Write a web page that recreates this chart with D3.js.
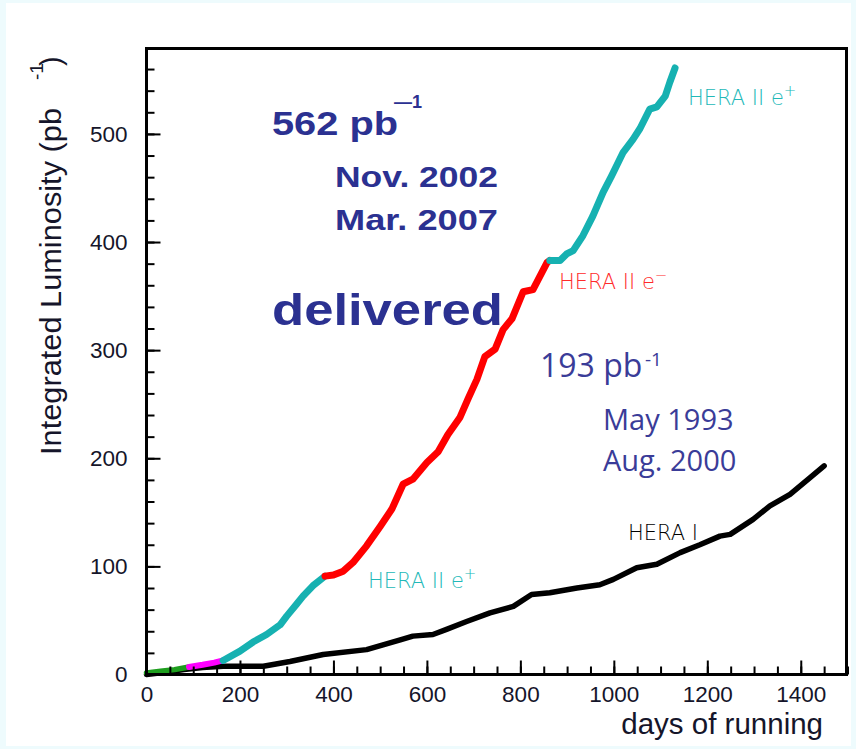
<!DOCTYPE html>
<html>
<head>
<meta charset="utf-8">
<script src="https://cdn.jsdelivr.net/npm/d3@7"></script>
<style>
  html, body { margin: 0; padding: 0; background: #eefbfd; }
  svg { display: block; }
</style>
</head>
<body>
<svg id="chart" width="856" height="749"></svg>
<script>
// ---------- data ----------
const heraIDays  = [0, 40, 80, 120, 164, 250, 307, 378, 471, 543, 570, 613, 642, 685, 735, 785, 824, 863, 921, 970, 999, 1049, 1092, 1142, 1184, 1227, 1249, 1298, 1334, 1377, 1420, 1450];
const heraILumi  = [0, 2, 4.5, 6.5, 7.7, 7.7, 12, 18.5, 23, 32, 35.5, 37, 41.7, 49, 57, 63, 74, 75.6, 80, 83, 88, 98.8, 101.9, 112.7, 120, 128, 129.6, 143.5, 156, 166.7, 182, 193];

const greenDays  = [0, 30, 60, 91];
const greenLumi  = [1.5, 3, 4.5, 7];
const magentaDays = [91, 120, 145, 164];
const magentaLumi = [7, 9, 11, 13];
const cyan1Days  = [164, 200, 228, 257, 286, 300, 321, 335, 356, 382];
const cyan1Lumi  = [13, 21.6, 30, 37, 46, 54, 65, 72.5, 82, 91];
const redDays    = [382, 400, 421, 442, 471, 500, 525, 549, 570, 600, 624, 645, 671, 688, 707, 724, 746, 763, 782, 806, 827, 857, 863];
const redLumi    = [91, 92, 95.6, 103.6, 119, 137, 153, 176, 180.6, 196, 206, 222, 238, 255, 273, 294, 301, 319, 329, 354, 356, 381, 383];
const cyan2Days  = [863, 885, 899, 913, 934, 955, 977, 995, 1020, 1041, 1056, 1077, 1092, 1110, 1120, 1131];
const cyan2Lumi  = [383, 383, 389, 392, 406, 424, 446, 461, 483, 495, 505, 523, 525, 535, 548, 561];

const xMajorTicks = [0, 200, 400, 600, 800, 1000, 1200, 1400];
const yMajorTicks = [0, 100, 200, 300, 400, 500];

// ---------- layout ----------
const svg = d3.select("#chart");
svg.append("rect").attr("x", 0).attr("y", 0).attr("width", 856).attr("height", 749).attr("fill", "#eefbfd");
svg.append("rect").attr("x", 6).attr("y", 3).attr("width", 845).attr("height", 743).attr("fill", "#ffffff");

const pLeft = 146.5, pRight = 847.5, pTop = 48.5, pBottom = 674.5;
const x = d3.scaleLinear().domain([0, 1500]).range([pLeft, pRight]);
const y = d3.scaleLinear().domain([0, 579]).range([pBottom, pTop]);

const line = d3.line().x(d => x(d[0])).y(d => y(d[1]));
const zip = (a, b) => a.map((v, i) => [v, b[i]]);

const curves = svg.append("g").attr("fill", "none").attr("stroke-linejoin", "round").attr("stroke-linecap", "round");
curves.append("path").attr("d", line(zip(heraIDays, heraILumi))).attr("stroke", "#000").attr("stroke-width", 5.5);
curves.append("path").attr("d", line(zip(greenDays, greenLumi))).attr("stroke", "#1e9e1e").attr("stroke-width", 5.5);
curves.append("path").attr("d", line(zip(magentaDays, magentaLumi))).attr("stroke", "#ff00ff").attr("stroke-width", 6);
curves.append("path").attr("d", line(zip(cyan1Days, cyan1Lumi))).attr("stroke", "#16b1b1").attr("stroke-width", 7);
curves.append("path").attr("d", line(zip(redDays, redLumi))).attr("stroke", "#ff0000").attr("stroke-width", 7);
curves.append("path").attr("d", line(zip(cyan2Days, cyan2Lumi))).attr("stroke", "#16b1b1").attr("stroke-width", 7);

// ---------- axes ----------
const tickFont = "'Liberation Sans', Arial, sans-serif";
const xMinor = d3.range(0, 1501, 50);
const yMinor = d3.range(0, 579, 20);
const fmt = d3.format("d");

const gxMinor = svg.append("g").attr("transform", `translate(0,${pBottom})`)
  .call(d3.axisBottom(x).tickValues(xMinor).tickSize(-8).tickFormat(""));
const gx = svg.append("g").attr("transform", `translate(0,${pBottom})`)
  .call(d3.axisBottom(x).tickValues(xMajorTicks).tickSize(-14).tickPadding(8).tickFormat(fmt));
const gyMinor = svg.append("g").attr("transform", `translate(${pLeft},0)`)
  .call(d3.axisLeft(y).tickValues(yMinor).tickSize(-8).tickFormat(""));
const gy = svg.append("g").attr("transform", `translate(${pLeft},0)`)
  .call(d3.axisLeft(y).tickValues(yMajorTicks).tickSize(-14).tickPadding(19).tickFormat(fmt));

[gxMinor, gx, gyMinor, gy].forEach(g => {
  g.selectAll(".domain").remove();
  g.selectAll(".tick line").attr("stroke", "#000").attr("stroke-width", 2);
  g.selectAll(".tick text").attr("fill", "#15152a").style("font-family", tickFont).style("font-size", "22.5px");
});
gx.selectAll(".tick text").attr("dy", "0.88em");

svg.append("rect").attr("x", pLeft).attr("y", pTop).attr("width", pRight - pLeft - 1).attr("height", pBottom - pTop)
  .attr("fill", "none").attr("stroke", "#000").attr("stroke-width", 3);

// axis titles
svg.append("text").attr("x", 823).attr("y", 734).attr("text-anchor", "end")
  .style("font-family", tickFont).style("font-size", "29.5px").attr("fill", "#15152a").text("days of running");

svg.append("text").attr("transform", "translate(61,455) rotate(-90)")
  .style("font-family", tickFont).style("font-size", "29px").attr("fill", "#15152a")
  .attr("textLength", 347).attr("lengthAdjust", "spacingAndGlyphs")
  .text("Integrated Luminosity (pb");
svg.append("text").attr("transform", "translate(43,80) rotate(-90)")
  .style("font-family", tickFont).style("font-size", "19px").attr("fill", "#15152a").text("-1");
svg.append("text").attr("transform", "translate(61,66) rotate(-90)")
  .style("font-family", tickFont).style("font-size", "29px").attr("fill", "#15152a").text(")");

// ---------- annotations ----------
const boldBlue = "#2b3191";
const boldFont = "'Liberation Sans', Arial, sans-serif";
function boldText(tx, ty, size, len, str) {
  svg.append("text").attr("x", tx).attr("y", ty)
    .style("font-family", boldFont).style("font-weight", "bold").style("font-size", size + "px")
    .attr("fill", boldBlue).attr("textLength", len).attr("lengthAdjust", "spacingAndGlyphs").text(str);
}
boldText(272, 135, 34, 126, "562 pb");
svg.append("text").attr("x", 394).attr("y", 108)
  .style("font-family", boldFont).style("font-weight", "bold").style("font-size", "18px")
  .attr("fill", boldBlue).text("—1");
boldText(335, 187, 30, 163, "Nov. 2002");
boldText(335, 230, 30, 163, "Mar. 2007");
boldText(272, 325, 44, 231, "delivered");

const regBlue = "#3a3c98";
const regFont = "'Open Sans', 'Noto Sans', sans-serif";
svg.append("text").attr("x", 540).attr("y", 377).style("font-family", regFont).style("font-size", "32px").attr("fill", regBlue).text("193 pb");
svg.append("text").attr("x", 645).attr("y", 366).style("font-family", regFont).style("font-size", "19px").attr("fill", regBlue).text("-1");
svg.append("text").attr("x", 603).attr("y", 430).style("font-family", regFont).style("font-size", "29px").attr("fill", regBlue).text("May 1993");
svg.append("text").attr("x", 603).attr("y", 471).style("font-family", regFont).style("font-size", "29px").attr("fill", regBlue).text("Aug. 2000");

const labelFont = "'DejaVu Sans', sans-serif";
function seriesLabel(tx, ty, color, main, sup) {
  const t = svg.append("text").attr("x", tx).attr("y", ty)
    .style("font-family", labelFont).style("font-weight", "200").style("font-size", "21px").attr("fill", color);
  t.append("tspan").text(main);
  if (sup) t.append("tspan").attr("dy", -9).style("font-size", "15px").text(sup);
}
seriesLabel(688, 105, "#22b8b8", "HERA II e", "+");
seriesLabel(559, 289, "#ff2a2a", "HERA II e", "−");
seriesLabel(368, 588, "#22b8b8", "HERA II e", "+");
seriesLabel(628, 540, "#000000", "HERA I", null);
</script>
</body>
</html>
